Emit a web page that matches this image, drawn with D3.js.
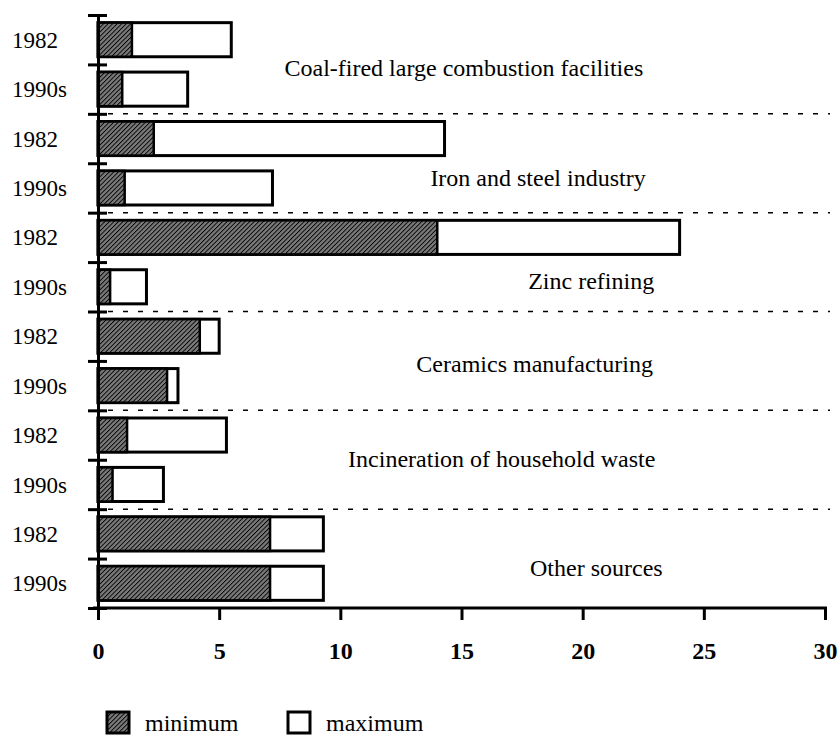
<!DOCTYPE html>
<meta charset="utf-8">
<title>Emission sources</title>
<style>
    body { margin: 0; background: #fff; }
</style>
<script src="https://d3js.org/d3.v7.js"></script>
<body>
<script>
    // data
    const groups = ["Coal-fired large combustion facilities", "Iron and steel industry", "Zinc refining",
        "Ceramics manufacturing", "Incineration of household waste", "Other sources"];
    const periods = ["1982", "1990s"];
    const minValues = [1.4, 1.0, 2.3, 1.1, 14.0, 0.5, 4.2, 2.85, 1.2, 0.6, 7.1, 7.1];
    const maxValues = [5.5, 3.7, 14.3, 7.2, 24.0, 2.0, 5.0, 3.3, 5.3, 2.7, 9.3, 9.3];
    const xTicks = [0, 5, 10, 15, 20, 25, 30];
    const legendLabels = ["minimum", "maximum"];

    // where the group names sit (row units / axis units)
    const labelRow = [1.07, 3.30, 5.38, 7.06, 8.98, 11.19];
    const labelEnd = [22.5, 22.6, 22.95, 22.9, 23.0, 23.3];

    const serif = "'Liberation Serif', 'Times New Roman', serif";
    const width = 838, height = 737;
    const margin = { top: 15, left: 98 };

    const rows = [];
    groups.forEach((g, i) => periods.forEach((p, j) => {
        const k = i * 2 + j;
        rows.push({ id: k, group: g, period: p, min: minValues[k], max: maxValues[k] });
    }));

    const svg = d3.select("body").append("svg")
        .attr("width", width)
        .attr("height", height)
        .attr("font-family", serif);

    const defs = svg.append("defs");
    const pat = defs.append("pattern")
        .attr("id", "hatch")
        .attr("patternUnits", "userSpaceOnUse")
        .attr("width", 3.2)
        .attr("height", 3.2)
        .attr("patternTransform", "rotate(45)");
    pat.append("rect").attr("width", 3.2).attr("height", 3.2).attr("fill", "#7a7a7a");
    pat.append("line").attr("x1", 0).attr("y1", 0).attr("x2", 0).attr("y2", 3.2)
        .attr("stroke", "#000").attr("stroke-width", 1.8);

    const x = d3.scaleLinear()
        .domain([0, 30])
        .range([margin.left, 825]);

    const y = d3.scaleBand()
        .domain(rows.map(d => d.id))
        .range([margin.top, 608])
        .paddingInner(0.31)
        .paddingOuter(0.155);

    // row boundaries, used for ticks and separators
    const rowEdge = d3.scaleLinear().domain([0, rows.length]).range([margin.top, 608]);

    // dashed separators between groups
    svg.selectAll(".sep")
        .data(d3.range(1, groups.length))
        .join("line")
        .attr("class", "sep")
        .attr("x1", margin.left + 10)
        .attr("x2", 830)
        .attr("y1", d => rowEdge(d * 2))
        .attr("y2", d => rowEdge(d * 2))
        .attr("stroke", "#000")
        .attr("stroke-width", 1.5)
        .attr("stroke-dasharray", "5,10");

    // max bars (white) then min bars (hatched)
    svg.selectAll(".maxbar")
        .data(rows)
        .join("rect")
        .attr("class", "maxbar")
        .attr("x", x(0))
        .attr("y", d => y(d.id))
        .attr("width", d => x(d.max) - x(0))
        .attr("height", y.bandwidth())
        .attr("fill", "#fff")
        .attr("stroke", "#000")
        .attr("stroke-width", 3);

    svg.selectAll(".minbar")
        .data(rows)
        .join("rect")
        .attr("class", "minbar")
        .attr("x", x(0))
        .attr("y", d => y(d.id))
        .attr("width", d => x(d.min) - x(0))
        .attr("height", y.bandwidth())
        .attr("fill", "url(#hatch)")
        .attr("stroke", "#000")
        .attr("stroke-width", 2.5);

    // y axis
    const yAxis = svg.append("g")
        .attr("transform", `translate(${margin.left},0)`)
        .call(d3.axisLeft(rowEdge).tickValues(d3.range(rows.length + 1)).tickFormat("").tickSize(10).tickSizeOuter(0));
    yAxis.select(".domain").attr("stroke-width", 3);
    yAxis.selectAll(".tick line").attr("x1", 9).attr("stroke-width", 3);

    // year labels
    svg.selectAll(".period")
        .data(rows)
        .join("text")
        .attr("class", "period")
        .attr("x", 12)
        .attr("y", d => y(d.id) + y.bandwidth() / 2)
        .attr("dy", "0.35em")
        .attr("font-family", serif)
        .attr("font-size", 23)
        .text(d => d.period);

    // x axis
    const xAxis = svg.append("g")
        .attr("transform", "translate(0,608)")
        .call(d3.axisBottom(x).tickValues(xTicks).tickSize(12).tickSizeOuter(0).tickPadding(22));
    xAxis.select(".domain").attr("stroke-width", 3).attr("d", `M${margin.left - 5},0H827`);
    xAxis.selectAll(".tick line").attr("stroke-width", 3);
    xAxis.selectAll(".tick text")
        .attr("font-family", serif)
        .attr("font-weight", "bold")
        .attr("font-size", 24);

    // group names
    svg.selectAll(".group")
        .data(groups)
        .join("text")
        .attr("class", "group")
        .attr("x", (d, i) => x(labelEnd[i]))
        .attr("y", (d, i) => rowEdge(labelRow[i]))
        .attr("dy", "0.35em")
        .attr("text-anchor", "end")
        .attr("font-family", serif)
        .attr("font-size", 24)
        .text(d => d);

    // legend
    const legend = svg.append("g").attr("transform", "translate(107,712)");
    const items = legend.selectAll("g")
        .data(legendLabels)
        .join("g")
        .attr("transform", (d, i) => `translate(${i * 181},0)`);
    items.append("rect")
        .attr("width", 22)
        .attr("height", 21)
        .attr("fill", (d, i) => i === 0 ? "url(#hatch)" : "#fff")
        .attr("stroke", "#000")
        .attr("stroke-width", 3);
    items.append("text")
        .attr("x", 38)
        .attr("y", 19)
        .attr("font-family", serif)
        .attr("font-size", 24)
        .text(d => d);
</script>
</body>
